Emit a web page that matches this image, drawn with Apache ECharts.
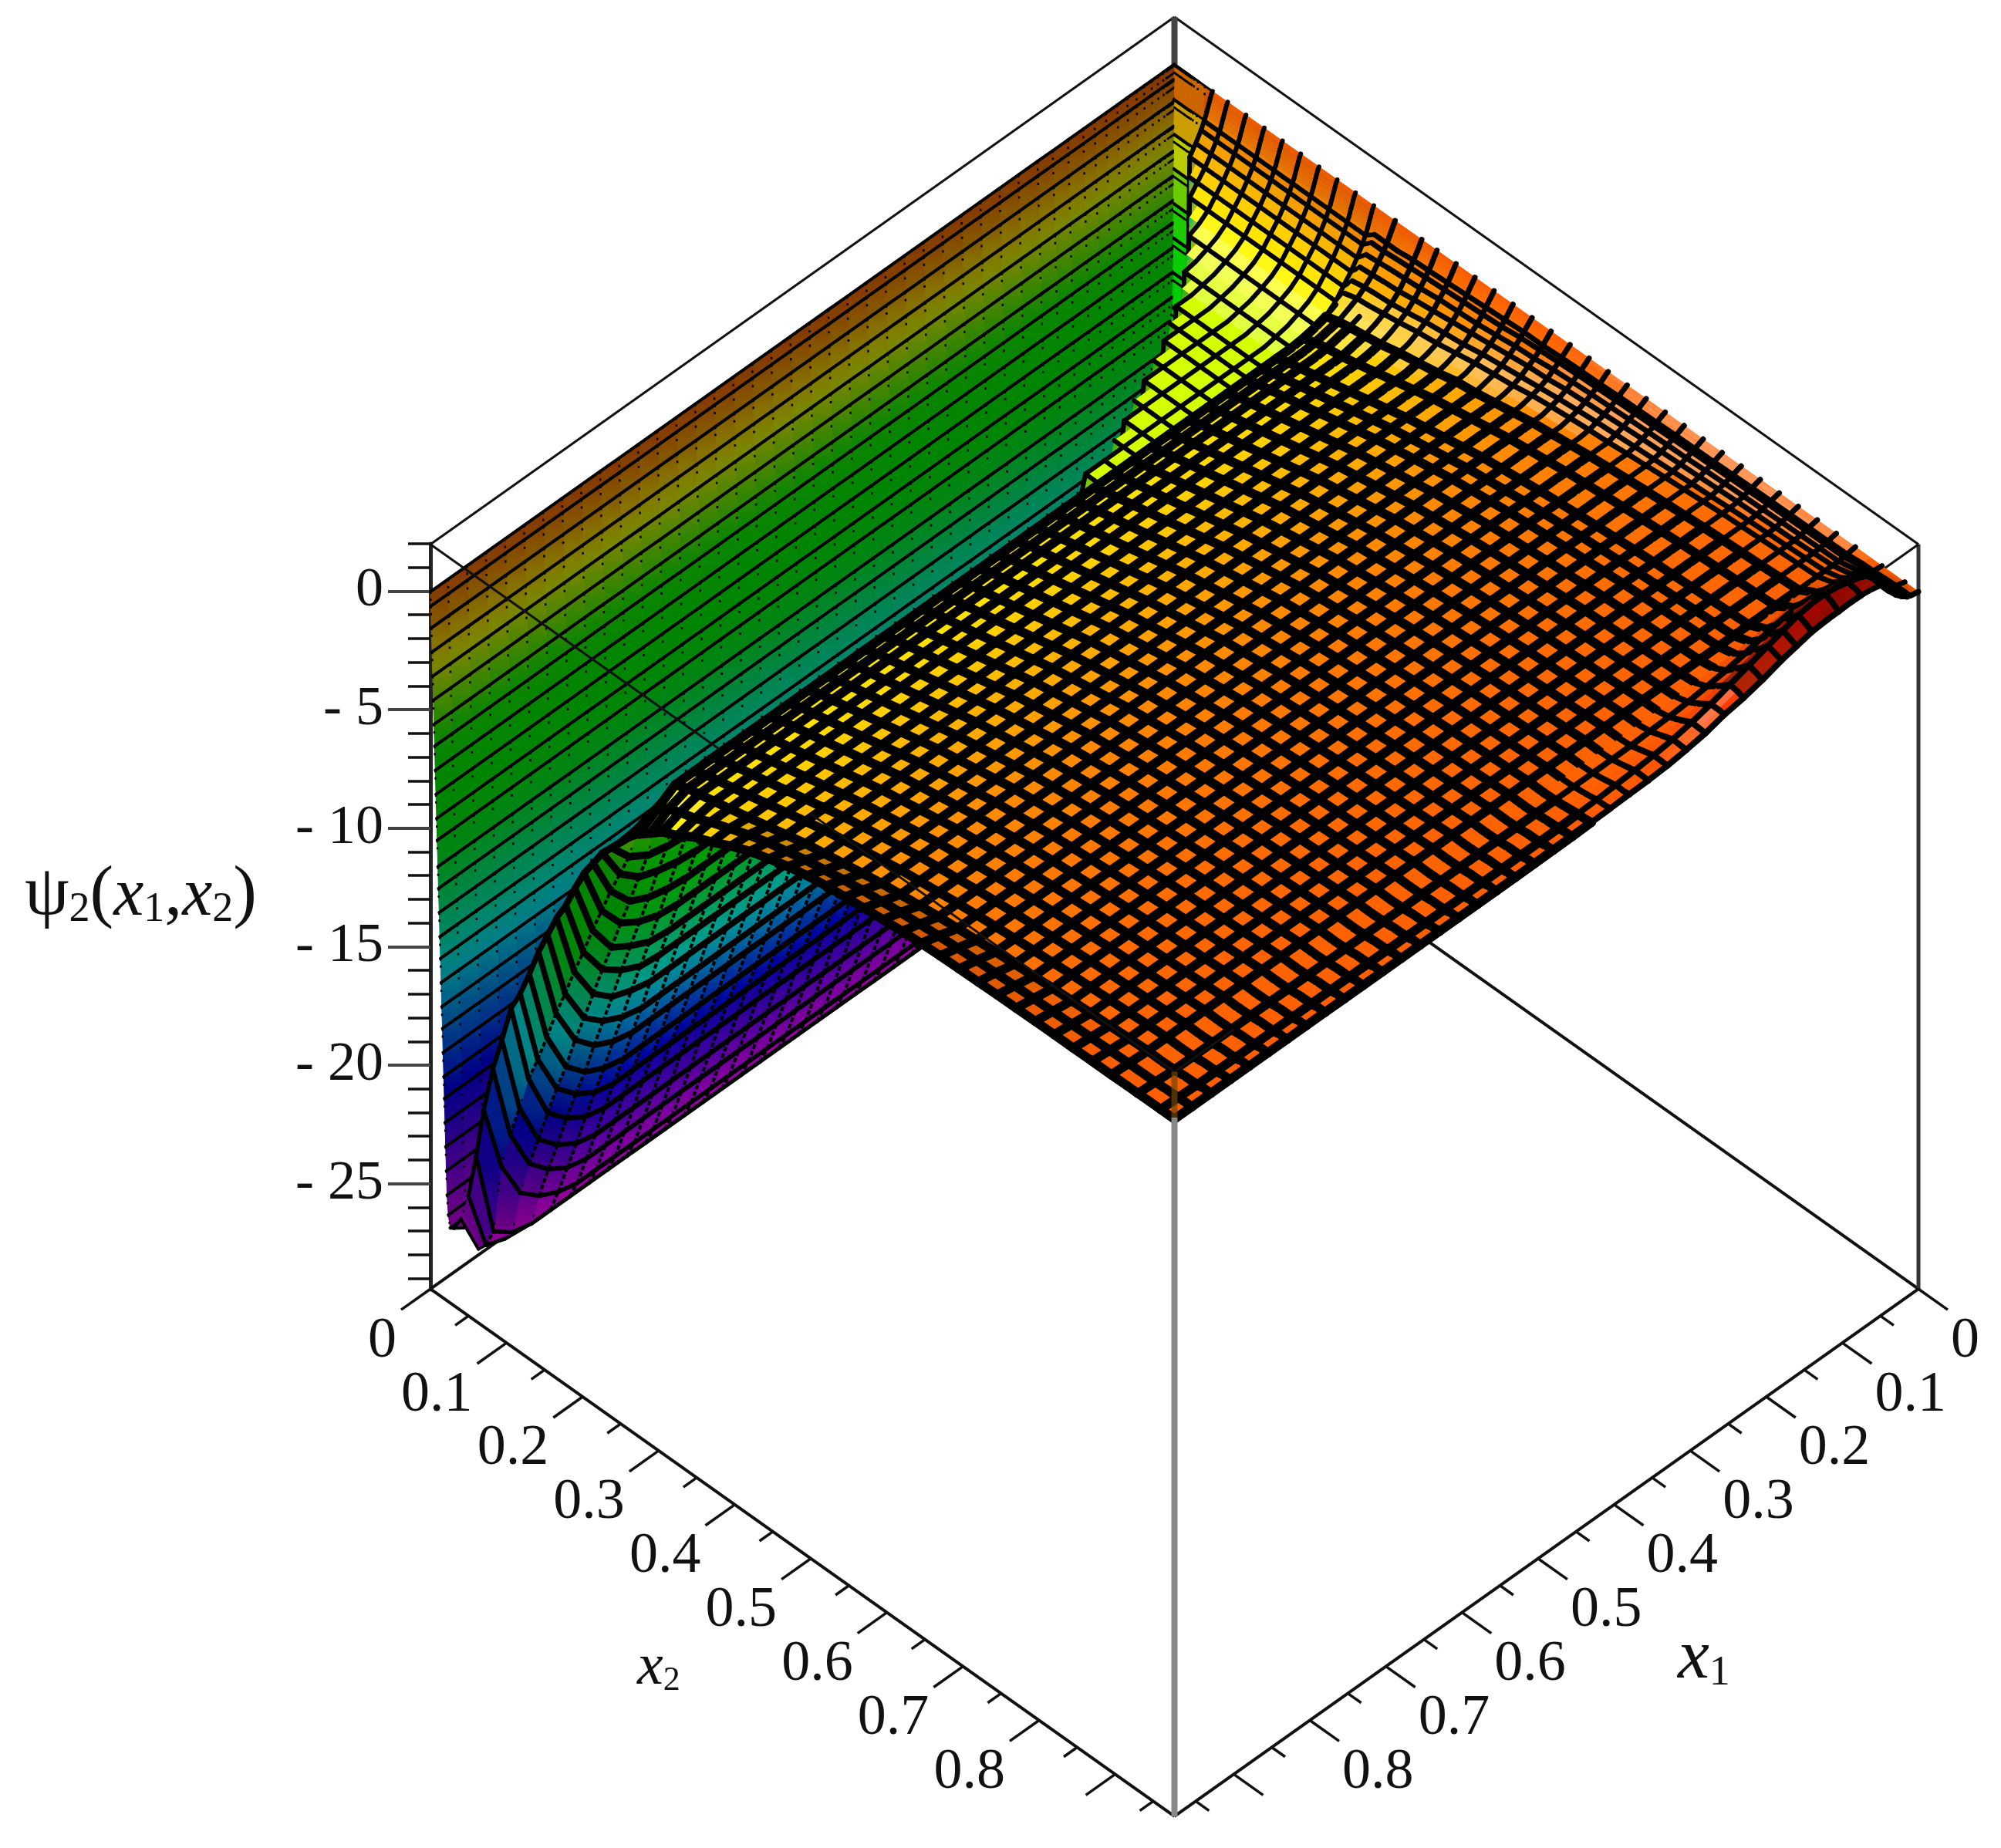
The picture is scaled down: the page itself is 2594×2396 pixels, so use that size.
<!DOCTYPE html>
<html>
<head>
<meta charset="utf-8">
<script src="https://cdn.jsdelivr.net/npm/echarts@6/dist/echarts.min.js"></script>
<style>html,body{margin:0;background:#fff}#main{width:2594px;height:2396px}</style>
</head>
<body>
<div id="main"></div>
<script>
var x1Max = 0.978, x2Max = 0.978, zTop = 2, zBottom = -29.47;

// mesh lines along x1, dense close to the x1=0 side
var x1Lines = [0,.0015,.003,.0045,.006,.0075,.009,.011,.015,.022,.03,.04,.05,.062,.075,.09,.105,.12,.14,.16,.18,.205,.23,.255,.28,.305,.33,.355,.38,.405,.43,.455,.48,.505,.53,.555,.58,.605,.63,.655,.68,.705,.73,.755,.78,.805,.83,.855,.88,.905,.93,.955,.978];

// wall next to x2=0
var wallX2 = [0,.0005,.0013,.0021,.003,.0038,.0047,.0055,.0064,.0072,.0081,.0089,.0098,.0106,.0115,.0124,.0132,.0141,.0149,.0158,.0166,.0175,.0183,.0192,.02,.0209,.0218,.0235,.026,.031,.04];
var wallZ = [0,-.6,-1.5,-2.5,-3.5,-4.5,-5.5,-6.4,-7.4,-8.4,-9.4,-10.3,-11.4,-12.3,-13.3,-14.3,-15.2,-16.2,-17.2,-18.1,-19.1,-20.1,-21,-22,-23,-24,-25,-25.8,-26.3,-27,-27.5];
var wallCaps = [0,-1.4,-2.8,-4.2,-5.6,-7,-8.4,-9.8,-11];

// trough climbing to the crest
var riseX2 = [.05,.06,.07,.082,.094,.106,.118,.13,.142,.154,.166,.178,.19,.202,.214,.226,.238,.25,.262];
var riseZ = [-27.4,-27,-26.2,-24.9,-23.6,-22.2,-20.9,-19.6,-18.2,-16.9,-15.5,-14.1,-12.8,-11.4,-10,-8.6,-7.2,-4.6,-3.5];
var riseSplit = [11,12,13,14,15,16,17,18,19,20,21,22,23,24,25,26,28,28,28];
var humpHead = [0,-.1,-.25,-.4,-.55,-.7,-.85,-1,-1.3,-1.7,-2.1,-2.5,-2.9,-3.2,-3.4,-3.6,-3.7,-3.8,-3.8,-3.8,-3.8,-3.8,-3.8,-3.8,-3.8,-3.8,-3.8,-3.8];
// last five x1 lines of those rows, where they curl up to the open edge
var riseTails = [[-27,-27,-26.9,-26.7,-26.2],[-27.5,-27.5,-27.5,-27.4,-25.6],[-27.4,-27.4,-27.3,-27,-24.4],[-27,-27,-26.8,-26.2,-22.5],[-26,-25.6,-24.9,-23.2,-20.3],[-24.7,-24.2,-23.4,-21.6,-18.3],[-23.4,-22.9,-22.1,-20.2,-16.8],[-22,-21.5,-20.7,-18.7,-15.2],[-20.7,-20.2,-19.4,-17.6,-14.3],[-19.4,-19,-18.2,-16.4,-13.2],[-18,-17.6,-16.8,-15.1,-12],[-16.7,-16.3,-15.6,-14,-11],[-15.3,-15,-14.3,-12.8,-10],[-14,-13.6,-13,-11.7,-9.2],[-12.7,-12.3,-11.8,-10.5,-8.2],[-11.3,-11,-10.5,-9.4,-7.3],[-9.9,-9.7,-9.3,-8.3,-6.6],[-8.5,-8.3,-8,-7.3,-5.9],[-7.1,-7,-6.8,-6.3,-5.4],[-4.6,-4.6,-4.7,-4.8,-4.9],[-3.5,-3.6,-3.8,-4.1,-4.4]];

// wide part of the sheet, each row read along x1, last value holds to the far side
var plateX2 = [.274,.29,.305,.325,.345,.37,.395,.42,.445,.47,.495,.52,.545,.57,.595,.62,.645,.67,.695,.72,.745,.77,.795,.82,.845,.87,.895,.915,.93,.945,.96,.97,.978];
var plateRows = [
[0,-.1,-.2,-.3,-.4,-.5,-.6,-.7,-.95,-1.3,-1.65,-2,-2.3,-2.5,-2.7,-2.85,-2.95,-3],
[0,-.1,-.2,-.3,-.4,-.5,-.6,-.7,-.95,-1.25,-1.6,-1.9,-2.15,-2.35,-2.55,-2.65,-2.75,-2.8],
[0,-.1,-.2,-.3,-.4,-.5,-.6,-.7,-.9,-1.2,-1.55,-1.85,-2.1,-2.3,-2.45,-2.55,-2.65,-2.7],
[0,-.1,-.2,-.3,-.38,-.46,-.54,-.62,-.85,-1.15,-1.5,-1.8,-2,-2.2,-2.35,-2.45,-2.55],
[0,-.09,-.18,-.27,-.36,-.44,-.52,-.6,-.8,-1.1,-1.4,-1.7,-1.9,-2.1,-2.25,-2.35,-2.4],
[0,-.08,-.16,-.24,-.32,-.4,-.48,-.55,-.75,-1,-1.3,-1.55,-1.75,-1.95,-2.05,-2.15,-2.2],
[0,-.07,-.14,-.21,-.28,-.35,-.42,-.5,-.7,-.95,-1.2,-1.45,-1.65,-1.8,-1.9,-2],
[0,-.07,-.14,-.2,-.26,-.32,-.38,-.45,-.65,-.9,-1.1,-1.35,-1.5,-1.65,-1.75,-1.8],
[0,-.06,-.12,-.18,-.24,-.3,-.35,-.4,-.6,-.8,-1,-1.2,-1.35,-1.5,-1.55,-1.6],
[0,-.05,-.1,-.15,-.2,-.25,-.3,-.35,-.5,-.7,-.9,-1.1,-1.25,-1.35,-1.45],
[0,-.05,-.1,-.15,-.2,-.25,-.3,-.35,-.45,-.65,-.8,-1,-1.15,-1.25,-1.3],
[0,-.04,-.08,-.12,-.16,-.2,-.24,-.3,-.4,-.55,-.75,-.9,-1,-1.1,-1.15],
[0,-.04,-.08,-.12,-.16,-.2,-.24,-.28,-.36,-.5,-.65,-.8,-.9,-1],
[0,-.03,-.06,-.1,-.14,-.18,-.22,-.26,-.33,-.45,-.6,-.72,-.82,-.9],
[0,-.03,-.06,-.09,-.12,-.15,-.18,-.22,-.3,-.42,-.55,-.65,-.75,-.8],
[0,-.03,-.06,-.09,-.12,-.15,-.18,-.21,-.28,-.38,-.5,-.6,-.7],
[0,-.03,-.05,-.08,-.1,-.13,-.16,-.19,-.25,-.35,-.45,-.55,-.62],
[0,-.02,-.05,-.07,-.1,-.12,-.15,-.17,-.22,-.32,-.42,-.5,-.55],
[0,-.02,-.04,-.06,-.09,-.11,-.13,-.15,-.2,-.3,-.38,-.45,-.48],
[0,-.02,-.04,-.06,-.08,-.1,-.12,-.14,-.18,-.26,-.34,-.4,-.42],
[0,-.02,-.03,-.05,-.07,-.09,-.1,-.12,-.16,-.23,-.3,-.36],
[0,-.01,-.03,-.04,-.06,-.07,-.09,-.1,-.14,-.2,-.26,-.3],
[0,-.01,-.02,-.04,-.05,-.06,-.08,-.09,-.12,-.18,-.23,-.26],
[0,-.01,-.02,-.03,-.04,-.06,-.07,-.08,-.11,-.16,-.2,-.22],
[0,-.01,-.02,-.03,-.04,-.05,-.06,-.07,-.1,-.14,-.18],
[0,-.01,-.02,-.03,-.04,-.05,-.06,-.07,-.09,-.12,-.14],
[0,-.01,-.02,-.03,-.04,-.05,-.05,-.06,-.08,-.1],
[0,0,0,0,0,0,0,.01,.02,.04,.06,.08,.1,.18,.25,.28,.3,.28,.2,.12,.05,0,-.05,-.08,-.1,-.11,-.12],
[0,0,0,.01,.01,.02,.02,.03,.06,.15,.25,.38,.5,.6,.7,.76,.8,.78,.7,.55,.4,.25,.15,.06,0,-.04,-.08,-.09,-.1],
[0,0,.01,.02,.03,.04,.05,.06,.12,.3,.5,.78,1,1.15,1.3,1.36,1.4,1.38,1.3,1.1,.9,.68,.5,.32,.2,.12,.05,.01,-.03,-.05,-.06],
[0,.01,.02,.03,.05,.06,.07,.09,.15,.35,.6,1,1.4,1.55,1.7,1.82,1.9,1.88,1.8,1.6,1.4,1.15,.9,.65,.45,.3,.2,.13,.08,.03,0,-.03,-.05],
[0,.01,.02,.03,.05,.06,.07,.09,.14,.32,.6,1,1.45,1.55,1.65,1.7,1.75,1.72,1.65,1.45,1.3,1.05,.85,.65,.42,.28,.18,.12,.06,.03,0,-.01],
[0,.01,.02,.03,.04,.05,.06,.08,.13,.3,.55,.95,1.4,1.5,1.56,1.58,1.56,1.55,1.5,1.35,1.2,.95,.75,.62,.4,.27,.17,.12,.1,.07,.05,.03,.02,.01,0]
];
var plateTails = [[-3.5,-4],[-3.1,-3.6],[-2.9,-3.2],[-2.7,-2.9],[-2.4,-2.5],[-2.1,-2.15],[-1.8,-1.75],[-1.55,-1.4],[-1.35,-1.15],[-1.15,-.9],[-1,-.72],[-.85,-.58],[-.72,-.48],[-.62,-.38],[-.52,-.3],[-.44,-.22],[-.37,-.16],[-.31,-.12],[-.27,-.1],[-.23,-.08],[-.2,-.06],[-.17,-.05],[-.14,-.04],[-.12,-.03],[-.1,-.03],[-.08,-.02],[-.06,-.02],[-.06,-.01],[-.05,-.01],[-.03,0],[-.02,0],[-.01,0],[0,0]];

var zMajor = [0,-5,-10,-15,-20,-25];
var zMinor = [2,1,-1,-2,-3,-4,-6,-7,-8,-9,-11,-12,-13,-14,-16,-17,-18,-19,-21,-22,-23,-24,-26,-27,-28,-29];
var xMajor = [0,.1,.2,.3,.4,.5,.6,.7,.8,.9];
var xMinor = [.05,.15,.25,.35,.45,.55,.65,.75,.85,.95];
var xLabels = ['0','0.1','0.2','0.3','0.4','0.5','0.6','0.7','0.8'];

// hue against height
var hueZ = [2,0,-1,-3.2,-6.5,-11,-15.5,-21,-27.5];
var hueDeg = [0,22,33,60,115,125,175,240,300];

// box edges, pairs of [x1,x2,z]
var backEdges = [
  [[0,0,zTop],[x1Max,0,zTop]],
  [[0,0,zTop],[0,x2Max,zTop]],
  [[0,0,zTop],[0,0,zBottom]],
  [[x1Max,0,zBottom],[0,0,zBottom]],
  [[0,x2Max,zBottom],[0,0,zBottom]],
  [[0,x2Max,zTop],[0,x2Max,zBottom]],
  [[0,x2Max,zTop],[x1Max,x2Max,zTop]],
  [[x1Max,x2Max,zBottom],[x1Max,0,zBottom]],
  [[x1Max,x2Max,zBottom],[0,x2Max,zBottom]]
];
var backWidth = [3,3,8,4,4,5,3,4,4];
var backColor = ['#111','#111','#444','#111','#111','#333','#111','#111','#111'];
var frontEdges = [
  [[x1Max,0,zTop],[x1Max,.38,zTop]],
  [[x1Max,.5,zTop],[x1Max,x2Max,zTop]],
  [[x1Max,x2Max,zTop],[.9,x2Max,zTop]],
  [[x1Max,x2Max,.07],[x1Max,x2Max,zBottom]],
  [[x1Max,x2Max,zTop],[x1Max,x2Max,.07]]
];
var frontWidth = [3,3,3,8,8];
var frontColor = ['#111','#111','#111','#888','rgba(110,70,0,.7)'];

// put the rows together
var x2Lines = [], surfaceRows = [], rowTails = [];
wallX2.forEach(function (v, k) {
  x2Lines.push(v);
  surfaceRows.push(wallCaps.filter(function (c) { return c > wallZ[k]; }).concat(wallZ[k]));
  rowTails.push(k >= 29 ? riseTails[k - 29] : null);
});
riseX2.forEach(function (v, k) {
  x2Lines.push(v);
  surfaceRows.push(humpHead.slice(0, riseSplit[k]).concat(riseZ[k]));
  rowTails.push(riseTails[k + 2]);
});
plateX2.forEach(function (v, k) {
  x2Lines.push(v);
  surfaceRows.push(plateRows[k]);
  rowTails.push(plateTails[k]);
});
var firstRise = wallX2.length, firstPlate = wallX2.length + riseX2.length;
var nX1 = x1Lines.length, nX2 = x2Lines.length;
var hiddenRows = [nX2 - 2, nX2 - 4, nX2 - 6]; // close rows by the corner, no line of their own
var hiddenColumns = [13, 15, 17];

function zAt(i, j) {
  var tail = rowTails[j], row = surfaceRows[j];
  if (tail && i >= nX1 - tail.length) return tail[i - (nX1 - tail.length)];
  return row[Math.min(i, row.length - 1)];
}

// orthographic view of the box
var depth = 22.79;
function project(x1, x2, z) {
  return [x2 - x1, z + depth * (x1Max - x1 - x2)];
}

function hueOf(z) {
  if (z >= hueZ[0]) return 0;
  for (var k = 1; k < hueZ.length; k++) {
    if (z >= hueZ[k]) {
      var t = (hueZ[k - 1] - z) / (hueZ[k - 1] - hueZ[k]);
      return hueDeg[k - 1] + t * (hueDeg[k] - hueDeg[k - 1]);
    }
  }
  return 300;
}
function shadeColor(z, b, w) {
  var h = hueOf(z) / 60, c = [0, 0, 0], f = h - Math.floor(h), s = Math.floor(h) % 6;
  if (s == 0) c = [1, f, 0];
  else if (s == 1) c = [1 - f, 1, 0];
  else if (s == 2) c = [0, 1, f];
  else if (s == 3) c = [0, 1 - f, 1];
  else if (s == 4) c = [f, 0, 1];
  else c = [1, 0, 1 - f];
  return 'rgb(' + c.map(function (v) {
    return Math.round(255 * (v * b * (1 - w) + w));
  }).join(',') + ')';
}
function lightOf(i, j, zMid) {
  var dx1 = x1Lines[i + 1] - x1Lines[i], dx2 = x2Lines[j + 1] - x2Lines[j];
  var zx1 = (zAt(i + 1, j) + zAt(i + 1, j + 1) - zAt(i, j) - zAt(i, j + 1)) / 2 / dx1;
  var zx2 = (zAt(i, j + 1) + zAt(i + 1, j + 1) - zAt(i, j) - zAt(i + 1, j)) / 2 / dx2;
  var nx = -zx1 * 0.05, ny = -zx2 * 0.05, len = Math.sqrt(nx * nx + ny * ny + 1);
  var dot = (0.5 * nx - 0.1 * ny + 0.85) / len;
  var b = Math.min(1, Math.max(0.52, 0.45 + 0.67 * dot));
  return {
    b: zMid > 0.8 ? b * 0.7 : b, // the ridge by the right corner is darker
    w: dot > 0.9 ? (dot - 0.9) * 4 : 0
  };
}
function inHump(i, j) {
  return j >= firstRise && j < firstPlate && i < riseSplit[j - firstRise];
}
function rowWidth(i, j) {
  if (j < firstRise) return 4;
  if (inHump(i, j)) return 6;
  if (j < firstPlate) return 5 + (j - firstRise) * 0.3;
  if (i < 14) return 7;
  if (j >= nX2 - 6 && i < 30) return 8;
  return 12;
}
function segment(a, b, w, dash, solid) {
  var steep = !solid && Math.abs(a[1] - b[1]) > 3 * Math.abs(a[0] - b[0]);
  return {
    type: 'line',
    silent: true,
    shape: { x1: a[0], y1: a[1], x2: b[0], y2: b[1] },
    style: steep ?
      { stroke: '#000', lineWidth: 2.5, lineDash: [3, 6, 3, 40] } :
      { stroke: '#000', lineWidth: w, lineCap: dash ? 'butt' : 'round', lineDash: dash || null }
  };
}

var cells = [];
for (var j = 0; j < nX2 - 1; j++) {
  for (var i = 0; i < nX1 - 1; i++) cells.push([i, j]);
}

function renderCell(params, api) {
  var i = api.value(0), j = api.value(1);
  function pt(a, b) {
    return api.coord(project(x1Lines[a], x2Lines[b], zAt(a, b)));
  }
  var p00 = pt(i, j), p10 = pt(i + 1, j), p11 = pt(i + 1, j + 1), p01 = pt(i, j + 1);
  var zMid = (zAt(i, j) + zAt(i + 1, j) + zAt(i, j + 1) + zAt(i + 1, j + 1)) / 4;
  var lit = lightOf(i, j, zMid);
  var fill;
  if (j < firstPlate) {
    fill = new echarts.graphic.LinearGradient(p00[0], p00[1], p01[0], p01[1], [
      { offset: 0, color: shadeColor((zAt(i, j) + zAt(i + 1, j)) / 2, lit.b, lit.w) },
      { offset: 1, color: shadeColor((zAt(i, j + 1) + zAt(i + 1, j + 1)) / 2, lit.b, lit.w) }
    ], true);
  } else {
    fill = shadeColor(zMid, lit.b, lit.w);
  }
  var kids = [{
    type: 'polygon',
    silent: true,
    shape: { points: [p00, p10, p11, p01] },
    style: { fill: fill, stroke: fill, lineWidth: 1 }
  }];
  var hump = inHump(i, j), width = rowWidth(i, j);
  // along x1
  var crowded = i < 13 && (j == firstPlate || j == firstPlate + 2);
  if (hiddenRows.indexOf(j) < 0 && !crowded && !(hump && (j - firstRise) % 2 == 1)) {
    kids.push(segment(p00, p10, width, null, j >= firstRise));
  }
  // along x2
  if (j < firstRise) {
    kids.push(segment(p00, p01, 3));
  } else if (j < firstPlate && !hump) {
    kids.push(segment(p00, p01, 4, [6, 3]));
  } else if (i >= 7 && hiddenColumns.indexOf(i) < 0) {
    kids.push(segment(p00, p01, width));
  }
  if (i == nX1 - 2) kids.push(segment(p10, p11, width, null, j >= firstRise));
  if (j == nX2 - 2) kids.push(segment(p01, p11, width, null, true));
  return { type: 'group', children: kids };
}

function edgeRenderer(edges, widths, colors) {
  return function (params, api) {
    var k = api.value(0), e = edges[k];
    var a = api.coord(project(e[0][0], e[0][1], e[0][2]));
    var b = api.coord(project(e[1][0], e[1][1], e[1][2]));
    return {
      type: 'line',
      shape: { x1: a[0], y1: a[1], x2: b[0], y2: b[1] },
      style: { stroke: colors[k], lineWidth: widths[k] }
    };
  };
}

// ticks and labels of the two floor axes
var tickData = [];
xMajor.forEach(function (v, k) {
  tickData.push([0, v, .0385, k]);
  tickData.push([1, v, .0385, k]);
});
xMinor.forEach(function (v) {
  tickData.push([0, v, .0175, -1]);
  tickData.push([1, v, .0175, -1]);
});

function renderTick(params, api) {
  var side = api.value(0), v = api.value(1), len = api.value(2), k = api.value(3);
  var a = side == 0 ? [x1Max, v, zBottom] : [v, x2Max, zBottom];
  var b = side == 0 ? [x1Max + len, v, zBottom] : [v, x2Max + len, zBottom];
  var pa = api.coord(project(a[0], a[1], a[2])), pb = api.coord(project(b[0], b[1], b[2]));
  var kids = [{
    type: 'line',
    shape: { x1: pa[0], y1: pa[1], x2: pb[0], y2: pb[1] },
    style: { stroke: '#111', lineWidth: 3.5 }
  }];
  if (k >= 0 && k < xLabels.length) {
    kids.push({
      type: 'text',
      x: pa[0] + (side == 0 ? -44 : 42),
      y: pa[1] + 68,
      style: {
        text: xLabels[k],
        fontFamily: 'Liberation Serif',
        fontSize: 74,
        fill: '#111',
        align: side == 0 ? 'right' : 'left',
        verticalAlign: 'middle'
      }
    });
  }
  return { type: 'group', children: kids };
}

var myChart = echarts.init(document.getElementById('main'), null, { renderer: 'canvas' });

var option = {
  animation: false,
  backgroundColor: '#fff',
  grid: [
    { left: 558, right: 107, top: 22, height: 2333 },
    { left: 558, top: 705, width: 1, height: 967 }
  ],
  xAxis: [
    { type: 'value', gridIndex: 0, min: -x2Max, max: x2Max, show: false },
    { type: 'value', gridIndex: 1, min: 0, max: 1, show: false }
  ],
  yAxis: [
    { type: 'value', gridIndex: 0, min: zBottom - 22.29, max: zTop + 22.29, show: false },
    {
      type: 'value', gridIndex: 1, min: zBottom, max: zTop, position: 'left',
      splitLine: { show: false },
      axisLine: { show: true, lineStyle: { color: '#222', width: 5 } },
      axisTick: { show: true, customValues: zMajor, length: 55, lineStyle: { color: '#444', width: 4 } },
      axisLabel: {
        show: true,
        customValues: zMajor,
        margin: 61,
        fontFamily: 'Liberation Serif',
        fontSize: 72,
        color: '#111',
        formatter: function (v) { return v == 0 ? '0' : '- ' + Math.abs(v); }
      }
    },
    {
      type: 'value', gridIndex: 1, min: zBottom, max: zTop, position: 'left',
      splitLine: { show: false },
      axisLine: { show: false },
      axisTick: { show: true, customValues: zMinor, length: 29, lineStyle: { color: '#111', width: 3.5 } },
      axisLabel: { show: false }
    }
  ],
  series: [
    { type: 'custom', z: 1, silent: true, data: backEdges.map(function (e, k) { return [k, k]; }), renderItem: edgeRenderer(backEdges, backWidth, backColor), clip: false },
    { type: 'custom', z: 2, silent: true, progressive: 0, data: cells, renderItem: renderCell, clip: false },
    { type: 'custom', z: 3, silent: true, data: frontEdges.map(function (e, k) { return [k, k]; }), renderItem: edgeRenderer(frontEdges, frontWidth, frontColor), clip: false },
    { type: 'custom', z: 4, silent: true, progressive: 0, data: tickData, renderItem: renderTick, clip: false }
  ],
  graphic: [
    {
      type: 'text', left: 32, top: 1115, silent: true,
      style: {
        text: '{a|ψ}{b|2}{a|(}{c|x}{b|1}{a|,}{c|x}{b|2}{a|)}',
        rich: {
          a: { fontFamily: 'Liberation Serif', fontSize: 92, fill: '#111', verticalAlign: 'bottom', lineHeight: 100 },
          b: { fontFamily: 'Liberation Serif', fontSize: 54, fill: '#111', verticalAlign: 'bottom', lineHeight: 100 },
          c: { fontFamily: 'Liberation Serif', fontStyle: 'italic', fontSize: 88, fill: '#111', verticalAlign: 'bottom', lineHeight: 100 }
        }
      }
    },
    {
      type: 'text', left: 2175, top: 2105, silent: true,
      style: {
        text: '{c|x}{b|1}',
        rich: {
          b: { fontFamily: 'Liberation Serif', fontSize: 54, fill: '#111', verticalAlign: 'bottom', lineHeight: 100 },
          c: { fontFamily: 'Liberation Serif', fontStyle: 'italic', fontSize: 92, fill: '#111', verticalAlign: 'bottom', lineHeight: 100 }
        }
      }
    },
    {
      type: 'text', left: 826, top: 2125, silent: true,
      style: {
        text: '{c|x}{b|2}',
        rich: {
          b: { fontFamily: 'Liberation Serif', fontSize: 44, fill: '#111', verticalAlign: 'bottom', lineHeight: 90 },
          c: { fontFamily: 'Liberation Serif', fontStyle: 'italic', fontSize: 76, fill: '#111', verticalAlign: 'bottom', lineHeight: 90 }
        }
      }
    }
  ]
};

myChart.setOption(option);
</script>
</body>
</html>
